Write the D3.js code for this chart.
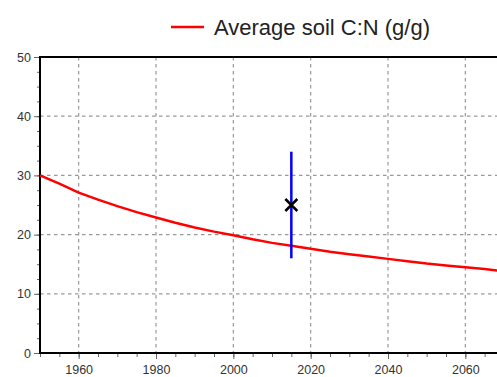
<!DOCTYPE html>
<html>
<head>
<meta charset="utf-8">
<script src="https://cdn.jsdelivr.net/npm/d3@7"></script>
<style>
  body { margin: 0; background: #fff; }
  svg { display: block; font-family: "Liberation Sans", Arial, sans-serif; }
</style>
</head>
<body>
<svg width="497" height="377"></svg>
<script>
// average soil C:N, every 5 years
const years = [1950, 1955, 1960, 1965, 1970, 1975, 1980, 1985, 1990, 1995, 2000, 2005, 2010,
               2015, 2020, 2025, 2030, 2035, 2040, 2045, 2050, 2055, 2060, 2065, 2070];
const soilCN = [30.0, 28.6, 27.1, 25.9, 24.8, 23.8, 22.9, 22.0, 21.2, 20.5, 19.9, 19.2, 18.6,
                18.1, 17.6, 17.1, 16.7, 16.3, 15.9, 15.5, 15.1, 14.8, 14.5, 14.2, 13.8];
// observed value with range
const obsYear = [2015];
const obsMid = [25];
const obsLow = [16];
const obsHigh = [34];

const yTicks = [0, 10, 20, 30, 40, 50];
const xTicks = [1960, 1980, 2000, 2020, 2040, 2060];
const legendLabel = "Average soil C:N (g/g)";

const svg = d3.select("svg");
const m = { left: 40, top: 57, bottom: 353, right: 504 };

const x = d3.scaleLinear().domain([1950, 2070]).range([m.left, m.right]);
const y = d3.scaleLinear().domain([0, 50]).range([m.bottom, m.top]);

// grid
const grid = svg.append("g").attr("stroke", "#999").attr("stroke-width", 1.2)
    .attr("stroke-dasharray", "3.5,3.5");
grid.selectAll(".gx").data(xTicks).enter().append("line")
    .attr("x1", d => x(d)).attr("x2", d => x(d))
    .attr("y1", m.top).attr("y2", m.bottom);
grid.selectAll(".gy").data(yTicks.slice(1, -1)).enter().append("line")
    .attr("x1", m.left).attr("x2", m.right)
    .attr("y1", d => y(d)).attr("y2", d => y(d));

// minor ticks
svg.append("g").attr("transform", `translate(0,${m.bottom})`)
    .call(d3.axisBottom(x).tickValues(d3.range(1950, 2071, 5)).tickSize(4).tickFormat(""))
    .call(g => g.select(".domain").remove())
    .selectAll("line").attr("stroke", "#666");
svg.append("g").attr("transform", `translate(${m.left},0)`)
    .call(d3.axisLeft(y).tickValues(d3.range(0, 50.1, 2.5)).tickSize(3).tickFormat(""))
    .call(g => g.select(".domain").remove())
    .selectAll("line").attr("stroke", "#666");

// major axes
const ax = svg.append("g").attr("transform", `translate(0,${m.bottom})`)
    .call(d3.axisBottom(x).tickValues(xTicks).tickSize(6).tickPadding(6).tickFormat(d3.format("d")));
ax.select(".domain").remove();
ax.selectAll("line").attr("stroke", "#666");
ax.selectAll("text").attr("font-size", 12.5).attr("fill", "#333")
    .attr("font-family", "Liberation Sans, Arial, sans-serif");

const ay = svg.append("g").attr("transform", `translate(${m.left},0)`)
    .call(d3.axisLeft(y).tickValues(yTicks).tickSize(6).tickPadding(3));
ay.select(".domain").remove();
ay.selectAll("line").attr("stroke", "#666");
ay.selectAll("text").attr("font-size", 12.5).attr("fill", "#333")
    .attr("font-family", "Liberation Sans, Arial, sans-serif");

// frame
svg.append("rect").attr("x", m.left).attr("y", m.top)
    .attr("width", m.right - m.left).attr("height", m.bottom - m.top)
    .attr("fill", "none").attr("stroke", "#000").attr("stroke-width", 2);

// series
const data = years.map((yr, i) => ({ yr: yr, v: soilCN[i] }));
svg.append("path").datum(data)
    .attr("fill", "none").attr("stroke", "#f00").attr("stroke-width", 2.5)
    .attr("d", d3.line().x(d => x(d.yr)).y(d => y(d.v)));

// observation
const obs = obsYear.map((yr, i) => ({ yr: yr, mid: obsMid[i], lo: obsLow[i], hi: obsHigh[i] }));
svg.selectAll(".err").data(obs).enter().append("line")
    .attr("x1", d => x(d.yr)).attr("x2", d => x(d.yr))
    .attr("y1", d => y(d.lo)).attr("y2", d => y(d.hi))
    .attr("stroke", "#00f").attr("stroke-width", 2.5);
const s = 6;
obs.forEach(d => {
  const cx = x(d.yr), cy = y(d.mid);
  svg.append("path")
      .attr("d", `M${cx - s},${cy - s}L${cx + s},${cy + s}M${cx - s},${cy + s}L${cx + s},${cy - s}`)
      .attr("stroke", "#000").attr("stroke-width", 2.5);
});

// legend
svg.append("line").attr("x1", 171).attr("x2", 204).attr("y1", 27).attr("y2", 27)
    .attr("stroke", "#f00").attr("stroke-width", 2.5);
svg.append("text").attr("x", 214).attr("y", 35)
    .attr("font-size", 22).attr("fill", "#222").text(legendLabel);
</script>
</body>
</html>
